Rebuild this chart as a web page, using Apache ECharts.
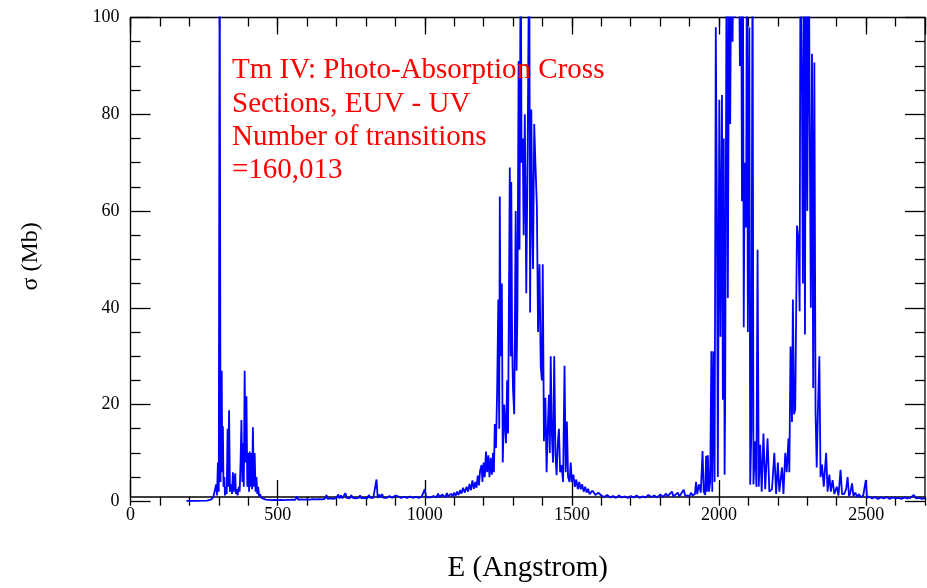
<!DOCTYPE html>
<html>
<head>
<meta charset="utf-8">
<script src="https://cdn.jsdelivr.net/npm/echarts@6/dist/echarts.min.js"></script>
<style>
html,body{margin:0;padding:0;background:#fff;}
#chart{width:927px;height:588px;}
</style>
</head>
<body>
<div id="chart"></div>
<script>
// ---- Data: [E (Angstrom), sigma (Mb)]; values of 120 stand for off-scale peaks ----
const euvBand = [
  [190,0.1],[220,0.1],[260,0.15],[275,0.4],[282,1.0],[287,0.6],[291,3.5],[294,1.2],[297,8],[300,2],
  [303,120],[306,4],[310,27],[312,6],[314,15.5],[316,3],[319,5],[321,1.2],[324,3],[327,1.5],
  [330,15],[332,3],[335,18.8],[338,2],[342,3.5],[345,1.5],[348,6],[351,2],[356,5.8],[358,1.5],
  [361,2.5],[364,1.2],[368,3],[371,2],[374,8],[377,16.8],[380,4],[382,12],[385,3],[388,27],
  [391,8],[394,21.7],[397,3],[400,10],[403,2],[405,10.3],[408,3],[411,10],[413,2.5],[416,15.3],
  [419,3],[422,10],[425,2],[428,5],[431,1.5],[434,3],[437,1],[440,1.5],[445,0.7],[450,0.5],[460,0.35]
];
const midBand = [
  [470,0.3],[480,0.25],[490,0.3],[500,0.25],[510,0.3],[520,0.25],[530,0.3],[540,0.3],[550,0.35],[560,0.3],
  [566,1.0],[570,0.35],[580,0.4],[590,0.35],[600,0.4],[610,0.35],[620,0.45],[630,0.4],[640,0.45],[650,0.4],
  [660,0.5],[666,1.3],[670,0.5],[680,0.6],[690,0.5],[700,0.7],[706,1.4],[710,0.6],[715,1.2],[720,0.6],
  [725,0.9],[730,1.7],[735,0.7],[740,1.1],[745,0.6],[750,1.3],[755,0.7],[760,1.1],[765,0.6],[770,1.0],
  [775,0.7],[780,1.2],[785,0.6],[790,0.9],[795,0.7],[800,1.1],[805,0.6],[810,1.3],[815,0.7],[820,1.0],
  [825,0.7],[830,1.1],[836,4.5],[840,0.7],[845,1.4],[850,0.8],[855,1.5],[860,0.7],[865,1.0],[870,0.7],
  [880,1.1],[890,0.7],[900,1.2],[905,0.8],[910,1.0],[920,0.7],[930,0.9],[940,0.7],[950,1.0],[960,0.7],
  [970,0.9],[980,0.7],[990,1.0],[1000,2.5],[1005,0.8],[1010,1.2],[1020,0.8],[1030,1.1],[1040,0.8],[1045,1.6],
  [1050,0.9],[1060,1.4],[1070,0.8],[1075,1.7],[1080,1.0],[1090,1.6],[1095,1.0],[1100,1.8],[1105,1.1],[1110,2.0],
  [1115,1.3],[1120,2.3],[1125,1.6],[1130,2.8],[1136,1.8],[1142,3.0],[1147,2.0],[1152,3.6],[1157,2.3],[1162,4.3],
  [1167,2.6],[1172,4.0],[1176,2.8],[1180,5.3],[1184,3.3],[1188,6.3],[1193,7.5],[1196,4.0]
];
const peakABand = [
  [1200,8],[1204,5],[1208,10.3],[1212,6],[1216,9.5],[1220,5],[1224,9],[1228,5.5],[1232,10],[1235,6],
  [1238,16],[1242,11],[1246,23],[1250,41.7],[1253,15],[1255,63],[1258,30],[1262,45],[1265,8],[1270,20],
  [1276,12],[1280,25],[1283,14],[1289,69],[1292,30],[1294,66],[1297,32],[1300,23],[1304,18],[1309,60],
  [1312,27],[1315,40],[1319,91],[1322,52],[1326,120],[1329,70],[1333,75],[1336,55],[1340,80],[1345,43],
  [1350,75],[1355,120],[1358,39],[1362,81],[1366,55],[1368,48],[1372,78],[1376,70],[1381,61],[1385,35],
  [1390,49],[1394,28],[1398,25],[1401,49],[1405,12.4],[1410,21.4],[1414,6],[1418,15],[1422,22],[1425,10],
  [1428,30],[1432,13.7],[1436,8],[1440,30],[1444,10],[1448,5.4],[1452,12],[1456,15],[1460,6],[1465,7.5],
  [1470,4],[1475,28],[1479,6],[1483,16.5],[1487,5],[1492,4],[1496,8],[1500,4],[1505,5.5],[1510,3],
  [1515,4.5],[1520,2.5],[1525,4],[1530,2.5],[1535,3.5],[1540,2],[1545,3],[1550,1.8],[1555,2.6],[1560,1.5],
  [1570,2.2],[1580,1.3],[1590,1.8],[1600,1.2]
];
const gapBand = [
  [1610,0.9],[1620,1.3],[1630,0.8],[1640,1.1],[1650,0.7],[1660,1.2],[1670,0.8],[1680,1.0],[1690,0.7],[1700,1.1],
  [1710,0.8],[1720,1.2],[1730,0.7],[1740,1.0],[1750,0.8],[1760,1.3],[1770,0.9],[1780,1.2],[1790,0.8],[1800,1.4],
  [1810,0.9],[1820,1.6],[1825,1.0],[1830,1.3],[1840,2.0],[1845,1.0],[1850,1.4],[1860,1.8],[1865,1.0],[1870,1.3],
  [1880,2.4],[1885,1.2],[1890,1.6],[1900,1.1],[1905,1.8],[1910,1.2],[1918,1.5],[1922,4],[1926,1.5],[1932,3.5],
  [1938,1.8],[1944,10.4],[1948,2],[1953,1.3],[1956,9.4],[1959,2]
];
const peakBBand = [
  [1962,9.5],[1966,2],[1970,4],[1974,31],[1977,2],[1981,31],[1985,4],[1989,98],[1993,59],[1996,5],
  [2001,83],[2005,34],[2010,84],[2013,21],[2016,75],[2019,5.5],[2021,22],[2026,120],[2030,42],[2035,120],
  [2038,78],[2042,120],[2046,95],[2050,120],[2054,100],[2058,120],[2062,110],[2067,120],[2071,90],[2075,120],
  [2078,62],[2081,120],[2084,36],[2087,70],[2092,56.6],[2095,120],[2098,35],[2103,98],[2106,3.4],[2110,15],
  [2114,120],[2117,3.5],[2123,12.4],[2127,3],[2131,52],[2135,3],[2140,11.7],[2145,2],[2151,14],[2157,2.5],
  [2165,13],[2171,2],[2180,2.5],[2188,10],[2194,1.5],[2200,8],[2205,2],[2214,7],[2219,1.5],[2225,10],
  [2230,6],[2236,13],[2239,6],[2243,32],[2248,16.4],[2251,41.7],[2255,18],[2259,19],[2265,57],[2270,54],
  [2274,39.3],[2277,120],[2282,84],[2285,45],[2289,120],[2292,34.5],[2296,120],[2300,60],[2305,120],[2308,80],
  [2312,40],[2316,92.5],[2320,23.4],[2324,90.7],[2328,18.6],[2332,7],[2336,18.6],[2341,30],[2345,5],[2350,7.6],
  [2356,3],[2364,10],[2369,2],[2375,5.5],[2380,2],[2386,4.4],[2392,1.5],[2400,3],[2406,1.2],[2413,6.5],[2418,1.5]
];
const tailBand = [
  [2425,1.5],[2432,2.5],[2437,5],[2442,1.0],[2447,2],[2452,3.7],[2457,1.0],[2463,1.8],[2470,0.9],[2476,1.5],
  [2482,0.8],[2490,1.2],[2495,0.8],[2499,4.4],[2503,0.7],[2510,1.0],[2520,0.6],[2530,0.9],[2540,0.5],[2550,0.8],
  [2560,0.6],[2570,0.9],[2580,0.5],[2590,0.8],[2600,0.6],[2610,0.7],[2620,0.5],[2630,0.8],[2640,0.6],[2650,0.7],
  [2662,1.3],[2670,0.6],[2680,0.7],[2690,0.5],[2700,0.6]
];
const annotationLines = ['Tm IV: Photo-Absorption Cross', 'Sections, EUV - UV', 'Number of transitions', '=160,013'];
const xTitle = 'E (Angstrom)';
const yTitle = 'σ (Mb)';

const spectrum = [].concat(euvBand, midBand, peakABand, gapBand, peakBBand, tailBand);

const FONT = '"Liberation Serif", "Times New Roman", serif';
const L = 130.5, R = 2, TOP = 17.5;
const black = '#000';
const plain = v => String(v);

const chart = echarts.init(document.getElementById('chart'));
chart.setOption({
  animation: false,
  backgroundColor: '#fff',
  grid: [
    { left: L, right: R, top: TOP, bottom: 86.7 },
    { left: L, right: R, top: TOP, bottom: 82.3, show: true, borderColor: black, borderWidth: 1.3, backgroundColor: 'transparent' },
    { left: L, right: R, top: TOP, bottom: 82.3 }
  ],
  xAxis: [
    { gridIndex: 0, type: 'value', min: 0, max: 2700, show: false },
    { gridIndex: 1, type: 'value', min: 0, max: 2700, interval: 500, position: 'bottom',
      axisLine: { show: false },
      axisTick: { inside: true, length: 17, lineStyle: { color: black, width: 1.3 } },
      axisLabel: { margin: 9, color: black, fontFamily: FONT, fontSize: 18, showMaxLabel: false, formatter: plain },
      splitLine: { show: false },
      name: xTitle, nameLocation: 'middle', nameGap: 57,
      nameTextStyle: { color: black, fontFamily: FONT, fontSize: 29 } },
    { gridIndex: 1, type: 'value', min: 0, max: 2700, interval: 500, position: 'top',
      axisLine: { show: false },
      axisTick: { inside: true, length: 17, lineStyle: { color: black, width: 1.3 } },
      axisLabel: { show: false }, splitLine: { show: false } },
    { gridIndex: 2, type: 'value', min: 0, max: 2700, interval: 100, position: 'bottom',
      axisLine: { show: false },
      axisTick: { inside: true, length: 9, lineStyle: { color: black, width: 1.3 } },
      axisLabel: { show: false }, splitLine: { show: false } },
    { gridIndex: 2, type: 'value', min: 0, max: 2700, interval: 100, position: 'top',
      axisLine: { show: false },
      axisTick: { inside: true, length: 9, lineStyle: { color: black, width: 1.3 } },
      axisLabel: { show: false }, splitLine: { show: false } }
  ],
  yAxis: [
    { gridIndex: 0, type: 'value', min: 0, max: 100, interval: 20, position: 'left',
      axisLine: { show: false },
      axisTick: { inside: true, length: 20, lineStyle: { color: black, width: 1.3 } },
      minorTick: { show: true, splitNumber: 4, length: 10, lineStyle: { color: black, width: 1.3 } },
      axisLabel: { margin: 11, color: black, fontFamily: FONT, fontSize: 18, formatter: plain },
      splitLine: { show: false }, minorSplitLine: { show: false },
      name: yTitle, nameLocation: 'middle', nameGap: 88, nameRotate: 90,
      nameTextStyle: { color: black, fontFamily: FONT, fontSize: 24, padding: [0, 0, 0, 6] } },
    { gridIndex: 0, type: 'value', min: 0, max: 100, interval: 20, position: 'right',
      axisLine: { show: false },
      axisTick: { inside: true, length: 20, lineStyle: { color: black, width: 1.3 } },
      minorTick: { show: true, splitNumber: 4, length: 10, lineStyle: { color: black, width: 1.3 } },
      axisLabel: { show: false }, splitLine: { show: false } },
    { gridIndex: 1, type: 'value', min: 0, max: 1, show: false },
    { gridIndex: 2, type: 'value', min: 0, max: 1, show: false }
  ],
  graphic: [{
    type: 'text', left: 232, top: 54, z: 10,
    style: {
      text: annotationLines.join('\n'),
      fill: '#ff0000',
      fontFamily: '"Liberation Serif", serif',
      fontSize: 29,
      lineHeight: 33.3
    }
  }],
  series: [{
    type: 'line',
    xAxisIndex: 0, yAxisIndex: 0,
    data: spectrum,
    showSymbol: false, symbol: 'none',
    clip: true,
    lineStyle: { color: '#0000ff', width: 1.8 }
  }]
});
</script>
</body>
</html>
